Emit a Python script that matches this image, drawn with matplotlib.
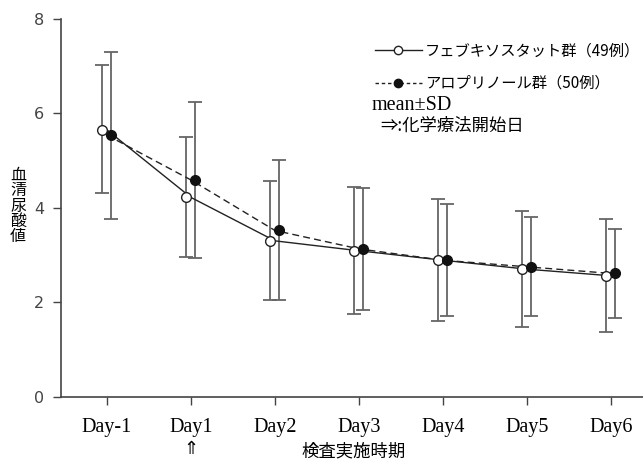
import matplotlib
matplotlib.use("Agg")
import matplotlib.pyplot as plt
from matplotlib.lines import Line2D
import numpy as np

plt.rcParams["font.family"] = ["Liberation Serif", "Noto Sans CJK JP", "DejaVu Sans"]

# データ
days = ["Day-1", "Day1", "Day2", "Day3", "Day4", "Day5", "Day6"]
feb_mean = [5.65, 4.22, 3.30, 3.09, 2.89, 2.70, 2.56]
feb_upper = [7.02, 5.50, 4.56, 4.43, 4.18, 3.93, 3.76]
feb_lower = [4.31, 2.95, 2.04, 1.75, 1.61, 1.47, 1.36]
allo_mean = [5.54, 4.59, 3.52, 3.13, 2.89, 2.75, 2.61]
allo_upper = [7.30, 6.23, 5.02, 4.42, 4.09, 3.81, 3.55]
allo_lower = [3.77, 2.94, 2.04, 1.84, 1.70, 1.70, 1.67]

x = np.arange(len(days))
fig = plt.figure(figsize=(6.43, 4.61), dpi=100)
ax = fig.add_axes([0.095, 0.1395, 0.905, 0.8195])

# 線は中央、マーカーは左右にずらす
ax.plot(x, feb_mean, "-", color="#222222", lw=1.0, zorder=2)
ax.plot(x, allo_mean, "--", color="#222222", lw=1.0, dashes=(5, 3), zorder=2)

fm = np.array(feb_mean)
am = np.array(allo_mean)
ax.errorbar(x - 0.055, fm, yerr=[fm - np.array(feb_lower), np.array(feb_upper) - fm],
            fmt="none", ecolor="#666666", elinewidth=1.3, capsize=5, capthick=1.3, zorder=1)
ax.errorbar(x + 0.05, am, yerr=[am - np.array(allo_lower), np.array(allo_upper) - am],
            fmt="none", ecolor="#666666", elinewidth=1.3, capsize=5, capthick=1.3, zorder=1)
ax.plot(x - 0.055, fm, "o", mfc="white", mec="#222222", ms=7, mew=1.0, zorder=3)
ax.plot(x + 0.05, am, "o", mfc="#111111", mec="#111111", ms=7, zorder=3)

ax.set_xlim(-0.545, 6.38)
ax.set_ylim(0, 8)
ax.set_yticks([0, 2, 4, 6, 8])
ax.set_xticks(x)
ax.set_xticklabels(days, fontsize=14.5)
for lab in ax.get_yticklabels():
    lab.set_fontfamily(["DejaVu Sans"])
    lab.set_fontsize(11.5)
    lab.set_color("#444444")
ax.tick_params(axis="x", length=6, width=1, color="#444444", pad=9)
ax.tick_params(axis="y", length=6, width=1, color="#444444", pad=6)
for s in ["top", "right"]:
    ax.spines[s].set_visible(False)
for s in ["left", "bottom"]:
    ax.spines[s].set_color("#444444")
    ax.spines[s].set_linewidth(1.2)

# 縦書きのラベル
fig.text(18 / 643, 1 - 206 / 461, "\n".join("血清尿酸値"), ha="center", va="center",
         fontsize=11.5, linespacing=0.88, family=["Noto Sans CJK JP"])
fig.text(354 / 643, 1 - 451 / 461, "検査実施時期", ha="center", va="center",
         fontsize=12.5, family=["Noto Sans CJK JP"])
fig.text(191 / 643, 1 - 449 / 461, "⇑", ha="center", va="center",
         fontsize=13, family=["DejaVu Sans"])

# 凡例
handles = [
    Line2D([], [], color="#222222", lw=1.0, marker="o", mfc="white", mec="#222222", ms=6),
    Line2D([], [], color="#222222", lw=1.0, ls="--", dashes=(2.5, 2), marker="o",
           mfc="#111111", mec="#111111", ms=6),
]
labels = ["フェブキソスタット群（49例）", "アロプリノール群（50例）"]
fig.legend(handles, labels, loc="upper left", bbox_to_anchor=(361 / 643, 1 - 29 / 461),
           frameon=False, handlelength=3.1, handletextpad=0.2, labelspacing=1.0,
           prop={"family": ["Noto Sans CJK JP"], "size": 11})
fig.text(372 / 643, 1 - 105 / 461, "mean±SD", ha="left", va="center", fontsize=14.5)
fig.text(380 / 643, 1 - 126 / 461, "⇒:化学療法開始日", ha="left", va="center",
         fontsize=12.5, family=["Noto Sans CJK JP", "DejaVu Sans"])

fig.savefig("out.png", dpi=100)
